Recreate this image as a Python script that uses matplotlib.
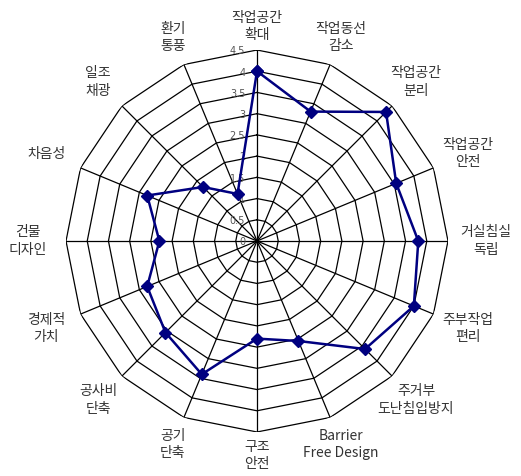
import numpy as np
import matplotlib
matplotlib.use("Agg")
import matplotlib.pyplot as plt

plt.rcParams['font.family'] = ['Noto Sans CJK KR', 'DejaVu Sans']

# 평가 항목 (시계 방향, 위쪽부터)
categories = [
    "작업공간\n확대", "작업동선\n감소", "작업공간\n분리", "작업공간\n안전",
    "거실침실\n독립", "주부작업\n편리", "주거부\n도난침입방지", "Barrier\nFree Design",
    "구조\n안전", "공기\n단축", "공사비\n단축", "경제적\n가치",
    "건물\n디자인", "차음성", "일조\n채광", "환기\n통풍",
]
scores = [4.0, 3.3, 4.3, 3.55, 3.8, 4.0, 3.6, 2.55,
          2.3, 3.4, 3.05, 2.8, 2.3, 2.8, 1.8, 1.2]
ring_values = [0, 0.5, 1, 1.5, 2, 2.5, 3, 3.5, 4, 4.5]
ring_labels = ["0", "0.5", "1", "1.5", "2", "2.5", "3", "3.5", "4", "4.5"]

n = len(categories)
theta = np.linspace(0, 2 * np.pi, n, endpoint=False)
theta_closed = np.append(theta, theta[0])

fig = plt.figure(figsize=(5.21, 4.76), dpi=100)
ax = fig.add_axes([66 / 521, 1 - 432 / 476, 382 / 521, 382 / 476], projection='polar')
ax.set_theta_zero_location('N')
ax.set_theta_direction(-1)
ax.set_ylim(0, 4.5)
ax.grid(False)
ax.spines['polar'].set_visible(False)
ax.set_xticks([])
ax.set_yticks([])
ax.patch.set_alpha(0)

# polygon grid
for rv in ring_values[1:]:
    ax.plot(theta_closed, [rv] * (n + 1), color='black', lw=0.9, zorder=1)
for t in theta:
    ax.plot([t, t], [0, 4.5], color='black', lw=0.9, zorder=1)

# radial labels along the top spoke
for rv, lab in zip(ring_values, ring_labels):
    ax.annotate(lab, xy=(0, rv), xytext=(-8.5, -1), textcoords='offset points',
                ha='right', va='center', fontsize=7, color='#555555',
                family=['DejaVu Sans'], zorder=2)

# data
ax.plot(theta_closed, scores + scores[:1], color='#000080', lw=1.8,
        marker='D', markersize=6, zorder=3)

# category labels (wider labels at the sides sit a bit further out)
for t, lab in zip(theta, categories):
    r_lab = 5.05 + 0.35 * abs(np.sin(t))
    ax.text(t, r_lab, lab, ha='center', va='center', fontsize=10,
            color='#333333', linespacing=1.3)

fig.savefig("out.png", dpi=100)
